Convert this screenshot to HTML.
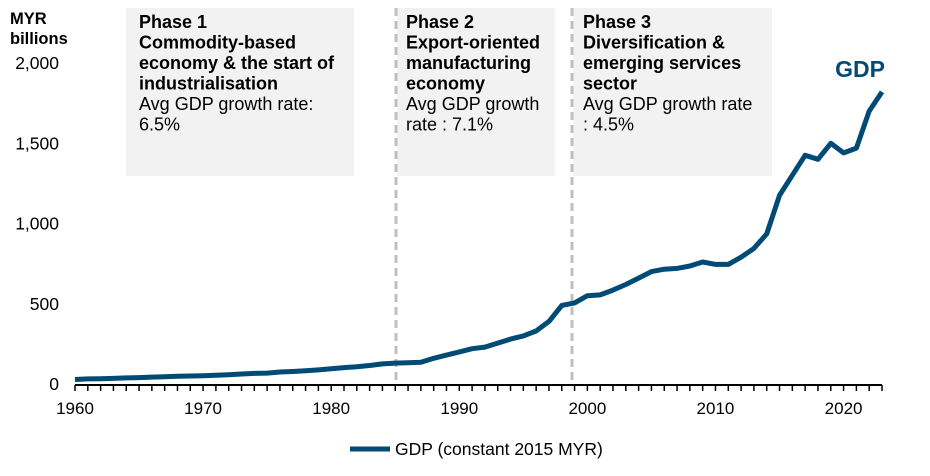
<!DOCTYPE html>
<html><head><meta charset="utf-8"><style>
body{margin:0;background:#fff;font-family:"Liberation Sans",Arial,sans-serif}
svg text{font-family:"Liberation Sans",Arial,sans-serif}
</style></head><body>
<svg id="c" width="930" height="471" xmlns="http://www.w3.org/2000/svg">
<rect x="126" y="8" width="228" height="168" fill="#f2f2f2"/>
<rect x="397" y="8" width="158" height="168" fill="#f2f2f2"/>
<rect x="573" y="8" width="199" height="168" fill="#f2f2f2"/>
<g font-size="18" fill="#000">
<text x="139" y="28"><tspan font-weight="bold">Phase 1</tspan><tspan x="139" dy="20.5" font-weight="bold">Commodity-based</tspan><tspan x="139" dy="20.5" font-weight="bold">economy &amp; the start of</tspan><tspan x="139" dy="20.5" font-weight="bold">industrialisation</tspan><tspan x="139" dy="20.5">Avg GDP growth rate:</tspan><tspan x="139" dy="20.5">6.5%</tspan></text>
<text x="406" y="28"><tspan font-weight="bold">Phase 2</tspan><tspan x="406" dy="20.5" font-weight="bold">Export-oriented</tspan><tspan x="406" dy="20.5" font-weight="bold">manufacturing</tspan><tspan x="406" dy="20.5" font-weight="bold">economy</tspan><tspan x="406" dy="20.5">Avg GDP growth</tspan><tspan x="406" dy="20.5">rate : 7.1%</tspan></text>
<text x="583" y="28"><tspan font-weight="bold">Phase 3</tspan><tspan x="583" dy="20.5" font-weight="bold">Diversification &amp;</tspan><tspan x="583" dy="20.5" font-weight="bold">emerging services</tspan><tspan x="583" dy="20.5" font-weight="bold">sector</tspan><tspan x="583" dy="20.5">Avg GDP growth rate</tspan><tspan x="583" dy="20.5">: 4.5%</tspan></text>
</g>
<line x1="396" y1="8" x2="396" y2="384" stroke="#bfbfbf" stroke-width="3" stroke-dasharray="8,5"/>
<line x1="572" y1="8" x2="572" y2="384" stroke="#bfbfbf" stroke-width="3" stroke-dasharray="8,5"/>
<text x="10" y="24" font-size="16.5" font-weight="bold">MYR<tspan x="10" dy="20">billions</tspan></text>
<g id="yt" font-size="17.5" text-anchor="end"></g>
<g id="xt" font-size="17" text-anchor="middle"></g>
<path id="ln" fill="none" stroke="#004a76" stroke-width="5" stroke-linejoin="round"/>
<text x="860" y="77" font-size="23" font-weight="bold" fill="#004a76" text-anchor="middle">GDP</text>
<line x1="350" y1="449" x2="390" y2="449" stroke="#004a76" stroke-width="5"/>
<text x="395" y="455" font-size="17.5">GDP (constant 2015 MYR)</text>
</svg>
<script>
const years=[];for(let y=1960;y<=2023;y++)years.push(y);
const gdp=[28,32,33,35,38,40,43,45,48,50,52,55,58,62,66,68,75,78,82,88,95,102,108,115,125,130,132,135,160,180,200,220,230,255,280,300,330,390,490,505,550,555,585,620,660,700,715,720,735,760,745,745,790,845,935,1175,1300,1425,1400,1500,1440,1470,1700,1820];
const yTicks=[0,500,1000,1500,2000];
const yTickLabels=["0","500","1,000","1,500","2,000"];
const xTicks=[1960,1970,1980,1990,2000,2010,2020];
const NS="http://www.w3.org/2000/svg";
const X=y=>75+(y-1960)*(807/63);
const Y=v=>384-v*(321/2000);
const yt=document.getElementById('yt'),xt=document.getElementById('xt'),svg=document.getElementById('c');
yTicks.forEach((v,i)=>{const t=document.createElementNS(NS,'text');t.setAttribute('x',59);t.setAttribute('y',Y(v)+6);t.textContent=yTickLabels[i];


yt.appendChild(t);});
xTicks.forEach(v=>{const t=document.createElementNS(NS,'text');t.setAttribute('x',X(v));t.setAttribute('y',414);t.textContent=v;


xt.appendChild(t);});
const ax=document.createElementNS(NS,'line');ax.setAttribute('x1',75);ax.setAttribute('x2',X(2023));ax.setAttribute('y1',385);ax.setAttribute('y2',385);ax.setAttribute('stroke','#000');ax.setAttribute('stroke-width','2');


svg.appendChild(ax);
years.forEach(y=>{const l=document.createElementNS(NS,'line');l.setAttribute('x1',X(y));l.setAttribute('x2',X(y));l.setAttribute('y1',385);l.setAttribute('y2',391);l.setAttribute('stroke','#000');l.setAttribute('stroke-width','1.5');


svg.appendChild(l);});
document.getElementById('ln').setAttribute('d',gdp.map((v,i)=>(i?'L':'M')+X(years[i]).toFixed(1)+','+Y(v).toFixed(1)).join(''));
</script>
</body></html>
